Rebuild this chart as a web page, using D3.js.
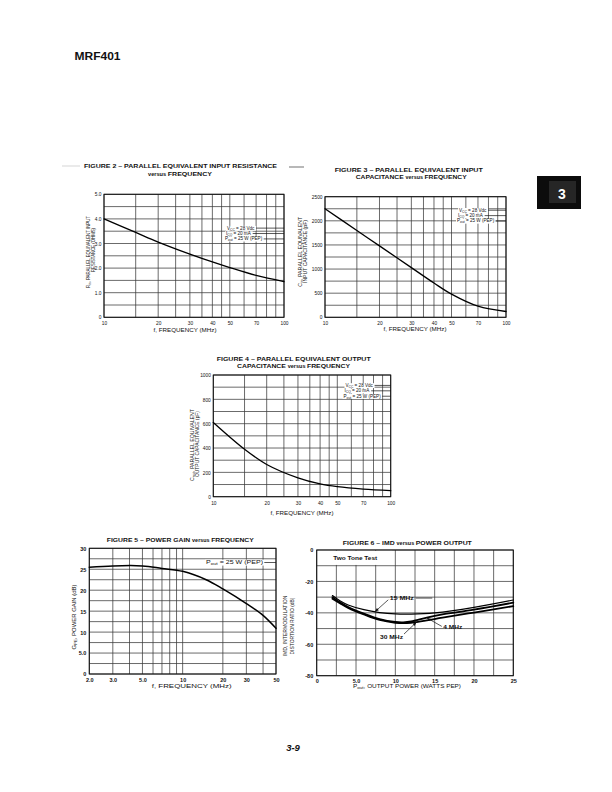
<!DOCTYPE html>
<html><head><meta charset="utf-8">
<script src="https://cdn.jsdelivr.net/npm/d3@7"></script>
<style>
body{margin:0;background:#fff}
svg{display:block}
text{font-family:"Liberation Sans",Arial,Helvetica,sans-serif;fill:#111}
</style>
</head><body>
<svg id="page" width="612" height="792"></svg>
<script>
// ---------------- DATA ----------------
const fig2Freq = [10, 15, 20, 30, 40, 50, 70, 100];
const fig2Rin  = [4.0, 3.45, 3.06, 2.57, 2.25, 2.02, 1.7, 1.45];

const fig3Freq = [10, 15, 20, 30, 40, 50, 70, 100];
const fig3Cin  = [2250, 1800, 1480, 1030, 710, 480, 230, 120];

const fig4Freq = [10, 15, 20, 30, 40, 50, 70, 100];
const fig4Cout = [610, 390, 265, 155, 105, 82, 62, 50];

const fig5Freq = [2, 3, 5, 7, 10, 15, 20, 30, 40, 50];
const fig5Gain = [25.5, 25.8, 25.8, 25.2, 24.5, 22.5, 20.3, 16.8, 14.0, 10.9];

const fig6Pout15 = [2, 3, 4, 6, 8, 10, 12, 15, 20, 25];
const fig6Imd15  = [-29, -32.5, -35, -38, -39.8, -40.7, -40.8, -40, -36.5, -31.8];
const fig6Pout4  = [2, 3, 4, 6, 8, 10, 11, 12, 14, 16, 20, 25];
const fig6Imd4   = [-30, -33.5, -36.3, -40.5, -44, -45.8, -46, -45.5, -43, -41, -38, -33.5];
const fig6Pout30 = [2, 3, 4, 6, 8, 10, 11, 12, 14, 16, 20, 25];
const fig6Imd30  = [-31, -34, -36.8, -41, -44.5, -46.3, -46.6, -46.3, -44.8, -43, -39.8, -35.7];

const freqGrid100   = [10, 15, 20, 25, 30, 35, 40, 45, 50, 60, 70, 80, 90, 100];
const freqTicks100  = [10, 20, 30, 40, 50, 70, 100];
const freqLabels100 = ["10", "20", "30", "40", "50", "70", "100"];

const rinGrid   = [0, 0.5, 1, 1.5, 2, 2.5, 3, 3.5, 4, 4.5, 5];
const rinTicks  = [0, 1, 2, 3, 4, 5];
const rinLabels = ["0", "1.0", "2.0", "3.0", "4.0", "5.0"];

const cinGrid   = [0, 250, 500, 750, 1000, 1250, 1500, 1750, 2000, 2250, 2500];
const cinTicks  = [0, 500, 1000, 1500, 2000, 2500];
const cinLabels = ["0", "500", "1000", "1500", "2000", "2500"];

const coutGrid   = [0, 100, 200, 300, 400, 500, 600, 700, 800, 900, 1000];
const coutTicks  = [0, 200, 400, 600, 800, 1000];
const coutLabels = ["0", "200", "400", "600", "800", "1000"];

const gainFreqGrid   = [2, 3, 4, 5, 6, 7, 8, 9, 10, 20, 30, 40, 50];
const gainFreqTicks  = [2, 3, 5, 10, 20, 30, 50];
const gainFreqLabels = ["2.0", "3.0", "5.0", "10", "20", "30", "50"];
const gainGrid   = [0, 2.5, 5, 7.5, 10, 12.5, 15, 17.5, 20, 22.5, 25, 27.5, 30];
const gainTicks  = [0, 5, 10, 15, 20, 25, 30];
const gainLabels = ["0", "5.0", "10", "15", "20", "25", "30"];

const poutGrid   = [0, 2.5, 5, 7.5, 10, 12.5, 15, 17.5, 20, 22.5, 25];
const poutTicks  = [0, 5, 10, 15, 20, 25];
const poutLabels = ["0", "5.0", "10", "15", "20", "25"];
const imdGrid   = [0, -10, -20, -30, -40, -50, -60, -70, -80];
const imdTicks  = [0, -20, -40, -60, -80];
const imdLabels = ["0", "-20", "-40", "-60", "-80"];

// ---------------- DRAWING ----------------
const svg = d3.select("#page");
const FONT = '"Liberation Sans",Arial,Helvetica,sans-serif';

function rich(g, x, y, parts, size, opts = {}) {
  const t = g.append("text").attr("x", x).attr("y", y)
    .attr("font-size", size)
    .attr("text-anchor", opts.anchor || "start")
    .attr("font-weight", opts.weight || "normal");
  if (opts.len) t.attr("textLength", opts.len).attr("lengthAdjust", "spacingAndGlyphs");
  if (opts.transform) t.attr("transform", opts.transform);
  parts.forEach(p => {
    const s = t.append("tspan").text(p[0]);
    if (p[1] === "sub") s.attr("font-size", size * 0.72).attr("baseline-shift", "-22%");
    if (p[1] === "small") s.attr("font-size", size * 0.8);
  });
  return t;
}

function whiteBehind(g, t, padX, trimY) {
  const bb = t.node().getBBox();
  g.insert("rect", () => t.node())
    .attr("x", bb.x - padX).attr("y", bb.y + trimY)
    .attr("width", bb.width + 2 * padX).attr("height", bb.height - 2 * trimY).attr("fill", "#fff");
  return bb;
}

function panel(cfg) {
  const g = svg.append("g");
  const x = cfg.x, y = cfg.y;
  const [L, R] = x.range();
  const [B, T] = y.range();
  g.selectAll(null).data(cfg.xGrid).join("line")
    .attr("x1", d => x(d)).attr("x2", d => x(d)).attr("y1", T).attr("y2", B)
    .attr("stroke", "#3a3a3a").attr("stroke-width", 0.75);
  g.selectAll(null).data(cfg.yGrid).join("line")
    .attr("x1", L).attr("x2", R).attr("y1", d => y(d)).attr("y2", d => y(d))
    .attr("stroke", "#3a3a3a").attr("stroke-width", 0.75);
  (cfg.boxes || []).forEach(b => {
    g.append("rect").attr("x", b[0]).attr("y", b[1]).attr("width", b[2]).attr("height", b[3]).attr("fill", "#fff");
  });
  g.append("rect").attr("x", L).attr("y", T).attr("width", R - L).attr("height", B - T)
    .attr("fill", "none").attr("stroke", "#111").attr("stroke-width", 1);

  const ax = g.append("g").attr("transform", `translate(0,${B})`)
    .call(d3.axisBottom(x).tickValues(cfg.xTicks).tickFormat((d, i) => cfg.xLabels[i]).tickSize(0));
  ax.select(".domain").remove();
  ax.selectAll("text").attr("y", cfg.xTickOff).attr("dy", null)
    .attr("font-size", cfg.tickSize).attr("font-family", FONT).attr("font-weight", cfg.tickWeight || "normal").attr("fill", "#111");
  const ay = g.append("g").attr("transform", `translate(${L},0)`)
    .call(d3.axisLeft(y).tickValues(cfg.yTicks).tickFormat((d, i) => cfg.yLabels[i]).tickSize(0).tickPadding(cfg.yPad));
  ay.select(".domain").remove();
  ay.selectAll("text").attr("dy", "0.35em")
    .attr("font-size", cfg.tickSize).attr("font-family", FONT).attr("font-weight", cfg.tickWeight || "normal").attr("fill", "#111");
  return g;
}

function curve(g, x, y, xs, ys, w) {
  const pts = xs.map((d, i) => [d, ys[i]]);
  g.append("path").datum(pts)
    .attr("d", d3.line().x(d => x(d[0])).y(d => y(d[1])).curve(d3.curveCatmullRom.alpha(0.5)))
    .attr("fill", "none").attr("stroke", "#000").attr("stroke-width", w).attr("stroke-linecap", "round");
}

function legendLines(g, R, rows, size) {
  rows.forEach(r => {
    const t = rich(g, r.x, r.y, r.parts, size);
    const bb = whiteBehind(g, t, 1, 0.4);
    g.append("line").attr("x1", bb.x + bb.width + 1).attr("x2", R).attr("y1", r.y - size * 0.3).attr("y2", r.y - size * 0.3)
      .attr("stroke", "#111").attr("stroke-width", 0.7);
  });
}

// ---- header / page decorations
rich(svg, 74.5, 59.5, [["MRF401", ""]], 11.5, { weight: "bold", len: 46 });
svg.append("rect").attr("x", 537).attr("y", 176).attr("width", 44).attr("height", 33).attr("fill", "#0c0c0c");
svg.append("rect").attr("x", 549).attr("y", 181).attr("width", 27).attr("height", 22).attr("fill", "#262626");
svg.append("text").attr("x", 562).attr("y", 198.5).attr("text-anchor", "middle")
  .attr("font-size", 14).attr("font-weight", "bold").style("fill", "#fff").text("3");
rich(svg, 293, 751, [["3-9", ""]], 9.5, { anchor: "middle", weight: "bold" }).attr("font-style", "italic");
svg.append("line").attr("x1", 62).attr("x2", 80).attr("y1", 166).attr("y2", 166).attr("stroke", "#bbb").attr("stroke-width", 0.6);
svg.append("line").attr("x1", 289).attr("x2", 304).attr("y1", 167).attr("y2", 167).attr("stroke", "#333").attr("stroke-width", 0.7);

const legendRows = (x0, y0, dy) => [
  { x: x0 + 2, y: y0, parts: [["V", ""], ["CC", "sub"], [" = 28 Vdc", ""]] },
  { x: x0 + 1, y: y0 + dy, parts: [["I", ""], ["CQ", "sub"], [" = 20 mA", ""]] },
  { x: x0, y: y0 + 2 * dy, parts: [["P", ""], ["out", "sub"], [" = 25 W (PEP)", ""]] }
];

// ---- Figure 2
{
  const x = d3.scaleLog().domain([10, 100]).range([104, 284]);
  const y = d3.scaleLinear().domain([0, 5]).range([317.3, 194.3]);
  const g = panel({ x, y, xGrid: freqGrid100, yGrid: rinGrid, xTicks: freqTicks100, xLabels: freqLabels100,
    yTicks: rinTicks, yLabels: rinLabels, tickSize: 4.8, xTickOff: 8, yPad: 2.5 });
  curve(g, x, y, fig2Freq, fig2Rin, 1.3);
  legendLines(g, 284, legendRows(225, 229.5, 5.4), 4.6);
  rich(g, 180.5, 168, [["FIGURE 2 – PARALLEL EQUIVALENT INPUT RESISTANCE", ""]], 6, { anchor: "middle", weight: "bold", len: 193 });
  rich(g, 180, 176, [["versus ", "small"], ["FREQUENCY", ""]], 6, { anchor: "middle", weight: "bold", len: 64 });
  rich(g, 185, 332, [["f, FREQUENCY (MHz)", ""]], 4.8, { anchor: "middle", len: 63 });
  rich(g, 0, 0, [["R", ""], ["in", "sub"], [", PARALLEL EQUIVALENT INPUT", ""]], 5, { anchor: "middle", len: 72, transform: "translate(90,252) rotate(-90)" });
  rich(g, 0, 0, [["RESISTANCE (OHMS)", ""]], 5, { anchor: "middle", len: 44, transform: "translate(95.3,250) rotate(-90)" });
}

// ---- Figure 3
{
  const x = d3.scaleLog().domain([10, 100]).range([325, 506]);
  const y = d3.scaleLinear().domain([0, 2500]).range([317.3, 196.7]);
  const g = panel({ x, y, xGrid: freqGrid100, yGrid: cinGrid, xTicks: freqTicks100, xLabels: freqLabels100,
    yTicks: cinTicks, yLabels: cinLabels, tickSize: 4.8, xTickOff: 8, yPad: 2.5 });
  curve(g, x, y, fig3Freq, fig3Cin, 1.3);
  legendLines(g, 506, legendRows(457, 211.6, 5.4), 4.6);
  rich(g, 408.8, 171.5, [["FIGURE 3 – PARALLEL EQUIVALENT INPUT", ""]], 6, { anchor: "middle", weight: "bold", len: 148 });
  rich(g, 411.2, 179.2, [["CAPACITANCE ", ""], ["versus ", "small"], ["FREQUENCY", ""]], 6, { anchor: "middle", weight: "bold", len: 111 });
  rich(g, 415, 331, [["f, FREQUENCY (MHz)", ""]], 4.8, { anchor: "middle", len: 63 });
  rich(g, 0, 0, [["C", ""], ["in", "sub"], [", PARALLEL EQUIVALENT", ""]], 5, { anchor: "middle", len: 70, transform: "translate(302,251.7) rotate(-90)" });
  rich(g, 0, 0, [["INPUT CAPACITANCE (pF)", ""]], 5, { anchor: "middle", len: 63, transform: "translate(307.3,251.5) rotate(-90)" });
}

// ---- Figure 4
{
  const x = d3.scaleLog().domain([10, 100]).range([213.3, 390.7]);
  const y = d3.scaleLinear().domain([0, 1000]).range([496.7, 375]);
  const g = panel({ x, y, xGrid: freqGrid100, yGrid: coutGrid, xTicks: freqTicks100, xLabels: freqLabels100,
    yTicks: coutTicks, yLabels: coutLabels, tickSize: 4.8, xTickOff: 8, yPad: 2.5 });
  curve(g, x, y, fig4Freq, fig4Cout, 1.3);
  legendLines(g, 390.7, legendRows(343.5, 386.8, 5.4), 4.6);
  rich(g, 293.7, 361, [["FIGURE 4 – PARALLEL EQUIVALENT OUTPUT", ""]], 6, { anchor: "middle", weight: "bold", len: 154 });
  rich(g, 293.5, 368.3, [["CAPACITANCE ", ""], ["versus ", "small"], ["FREQUENCY", ""]], 6, { anchor: "middle", weight: "bold", len: 113 });
  rich(g, 302, 515, [["f, FREQUENCY (MHz)", ""]], 4.8, { anchor: "middle", len: 63 });
  rich(g, 0, 0, [["C", ""], ["out", "sub"], [", PARALLEL EQUIVALENT", ""]], 5, { anchor: "middle", len: 72, transform: "translate(193.5,445) rotate(-90)" });
  rich(g, 0, 0, [["OUTPUT CAPACITANCE (pF)", ""]], 5, { anchor: "middle", len: 66, transform: "translate(198.8,444) rotate(-90)" });
}

// ---- Figure 5
{
  const x = d3.scaleLog().domain([2, 50]).range([89.3, 276]);
  const y = d3.scaleLinear().domain([0, 30]).range([674, 548.3]);
  const g = panel({ x, y, xGrid: gainFreqGrid, yGrid: gainGrid, xTicks: gainFreqTicks, xLabels: gainFreqLabels,
    yTicks: gainTicks, yLabels: gainLabels, tickSize: 5.5, tickWeight: "bold", xTickOff: 7.5, yPad: 3 });
  const t = rich(g, 206, 564.2, [["P", ""], ["out", "sub"], [" = 25 W (PEP)", ""]], 5.3, { len: 57 });
  const bb = whiteBehind(g, t, 1, 0.5);
  g.append("line").attr("x1", bb.x + bb.width + 1).attr("x2", 276).attr("y1", 562.5).attr("y2", 562.5).attr("stroke", "#111").attr("stroke-width", 0.7);
  curve(g, x, y, fig5Freq, fig5Gain, 1.5);
  rich(g, 180.3, 542, [["FIGURE 5 – POWER GAIN ", ""], ["versus ", "small"], ["FREQUENCY", ""]], 6, { anchor: "middle", weight: "bold", len: 147 });
  rich(g, 191.7, 687.5, [["f, FREQUENCY (MHz)", ""]], 5.6, { anchor: "middle", len: 80 });
  rich(g, 0, 0, [["G", ""], ["PE", "sub"], [", POWER GAIN (dB)", ""]], 5.8, { anchor: "middle", len: 65, transform: "translate(75.5,617) rotate(-90)" });
}

// ---- Figure 6
{
  const x = d3.scaleLinear().domain([0, 25]).range([316.7, 513.3]);
  const y = d3.scaleLinear().domain([-80, 0]).range([675.7, 550]);
  const g = panel({ x, y, xGrid: poutGrid, yGrid: imdGrid, xTicks: poutTicks, xLabels: poutLabels,
    yTicks: imdTicks, yLabels: imdLabels, tickSize: 5.5, tickWeight: "bold", xTickOff: 7.5, yPad: 3.5,
    boxes: [[x(0.25), y(-0.5), x(9.6) - x(0.25), y(-9.5) - y(-0.5)]] });
  rich(g, x(2.1), y(-6.4), [["Two Tone Test", ""]], 5.3, { weight: "bold", len: 44 });
  curve(g, x, y, fig6Pout15, fig6Imd15, 1.2);
  curve(g, x, y, fig6Pout4, fig6Imd4, 1.8);
  curve(g, x, y, fig6Pout30, fig6Imd30, 1.8);
  const lead = (a, b, arrow) => {
    g.append("line").attr("x1", x(a[0])).attr("y1", y(a[1])).attr("x2", x(b[0])).attr("y2", y(b[1]))
      .attr("stroke", "#111").attr("stroke-width", 0.7);
    if (arrow) {
      const ang = Math.atan2(y(b[1]) - y(a[1]), x(b[0]) - x(a[0])) * 180 / Math.PI;
      g.append("path").attr("d", "M0,0 L-4,-1.4 L-4,1.4 Z").attr("fill", "#111")
        .attr("transform", `translate(${x(b[0])},${y(b[1])}) rotate(${ang})`);
    }
  };
  rich(g, x(9.3), y(-31.9), [["15 MHz", ""]], 5.3, { weight: "bold", len: 24 });
  lead([9.1, -31.7], [7.4, -39.3], true);
  lead([12.6, -30.6], [14.7, -30.6], false);
  rich(g, x(8.05), y(-56.7), [["30 MHz", ""]], 5.3, { weight: "bold", len: 23 });
  lead([11.1, -53.5], [12.7, -45.9], true);
  rich(g, x(16.1), y(-50.4), [["4 MHz", ""]], 5.3, { weight: "bold", len: 19 });
  lead([15.9, -48.6], [14.0, -43.2], true);
  rich(g, 407.3, 545, [["FIGURE 6 – IMD ", ""], ["versus ", "small"], ["POWER OUTPUT", ""]], 6, { anchor: "middle", weight: "bold", len: 129 });
  rich(g, 407, 688, [["P", ""], ["out", "sub"], [", OUTPUT POWER (WATTS PEP)", ""]], 5.6, { anchor: "middle", len: 108 });
  rich(g, 0, 0, [["IMD, INTERMODULATION", ""]], 5.6, { anchor: "middle", len: 61, transform: "translate(287.2,626) rotate(-90)" });
  rich(g, 0, 0, [["DISTORTION RATIO (dB)", ""]], 5.6, { anchor: "middle", len: 57, transform: "translate(293.8,626) rotate(-90)" });
}
</script>
</body></html>
